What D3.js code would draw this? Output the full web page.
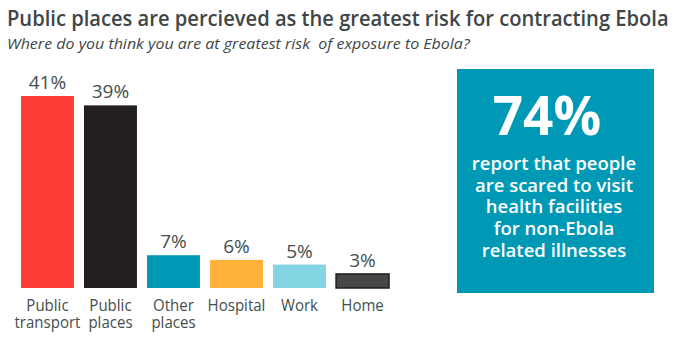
<!DOCTYPE html>
<html>
<head>
<meta charset="utf-8">
<script src="https://cdn.jsdelivr.net/npm/d3@7"></script>
<style>
  html, body { margin: 0; padding: 0; background: #fff; }
  svg { display: block; font-family: "Open Sans", sans-serif; }
  text { white-space: pre; }
</style>
</head>
<body>
<svg id="chart" width="677" height="350"></svg>
<script>
const categories = [["Public", "transport"], ["Public", "places"], ["Other", "places"], ["Hospital"], ["Work"], ["Home"]];
const values = [41, 39, 7, 6, 5, 3];
const valueLabels = ["41%", "39%", "7%", "6%", "5%", "3%"];
const barColors = ["#ff3d37", "#231f20", "#0099b5", "#ffb13a", "#84d5e3", "#474747"];
const titleText = "Public places are percieved as the greatest risk for contracting Ebola";
const subtitleText = "Where do you think you are at greatest risk  of exposure to Ebola?";
const calloutValue = "74%";
const calloutLines = ["report that people", "are scared to visit", "health facilities", "for non-Ebola", "related illnesses"];

const svg = d3.select("#chart");
const textColor = "#444e4e";

function fitWidth(sel, x0, y0, target) {
  const w = sel.node().getComputedTextLength();
  sel.attr("transform", `translate(${x0},${y0}) scale(${target / w},1)`);
}

const title = svg.append("text").attr("x", 0).attr("y", 0)
  .attr("font-size", 21).attr("font-weight", 600).attr("fill", "#3e4646")
  .text(titleText);
fitWidth(title, 7, 26, 662);
const sub = svg.append("text").attr("x", 0).attr("y", 0)
  .attr("font-size", 15).attr("font-style", "italic").attr("fill", "#3e4646")
  .text(subtitleText);
fitWidth(sub, 7, 48.5, 463);

const idx = d3.range(values.length);
const x = d3.scaleBand().domain(idx).range([21, 389]).paddingInner(0.16).paddingOuter(0);
const y = d3.scaleLinear().domain([0, 41]).range([288, 96]);

const g = svg.append("g");
g.selectAll("rect.bar").data(idx).join("rect")
  .attr("class", "bar")
  .attr("x", i => x(i))
  .attr("y", i => y(values[i]))
  .attr("width", x.bandwidth())
  .attr("height", i => y(0) - y(values[i]))
  .attr("fill", i => barColors[i])
  .attr("stroke", i => i === 5 ? "#1e1e1e" : "none")
  .attr("stroke-width", 1.5);

g.selectAll("text.val").data(idx).join("text")
  .attr("class", "val")
  .attr("x", i => x(i) + x.bandwidth() / 2)
  .attr("y", i => y(values[i]) - 7)
  .attr("text-anchor", "middle")
  .attr("font-size", 19).attr("fill", textColor)
  .text(i => valueLabels[i]);

const cat = g.selectAll("text.cat").data(idx).join("text")
  .attr("class", "cat")
  .attr("transform", i => `translate(${x(i) + x.bandwidth() / 2},311) scale(0.94,1)`)
  .attr("text-anchor", "middle")
  .attr("font-size", 16).attr("fill", textColor);
cat.selectAll("tspan").data(i => categories[i]).join("tspan")
  .attr("x", 0)
  .attr("dy", (d, k) => k === 0 ? 0 : 17)
  .text(d => d);

// callout box
svg.append("rect").attr("x", 457).attr("y", 69).attr("width", 197).attr("height", 224)
  .attr("fill", "#0099b5");
svg.append("text").attr("x", 547).attr("y", 135).attr("text-anchor", "middle")
  .attr("font-size", 53).attr("font-weight", 700).attr("fill", "#fff")
  .text(calloutValue);
svg.append("text").attr("text-anchor", "middle")
  .attr("font-size", 18.5).attr("font-weight", 600).attr("fill", "#fff")
  .selectAll("tspan").data(calloutLines).join("tspan")
  .attr("x", 554).attr("y", (d, i) => 170 + i * 21.7)
  .text(d => d);
</script>
</body>
</html>
